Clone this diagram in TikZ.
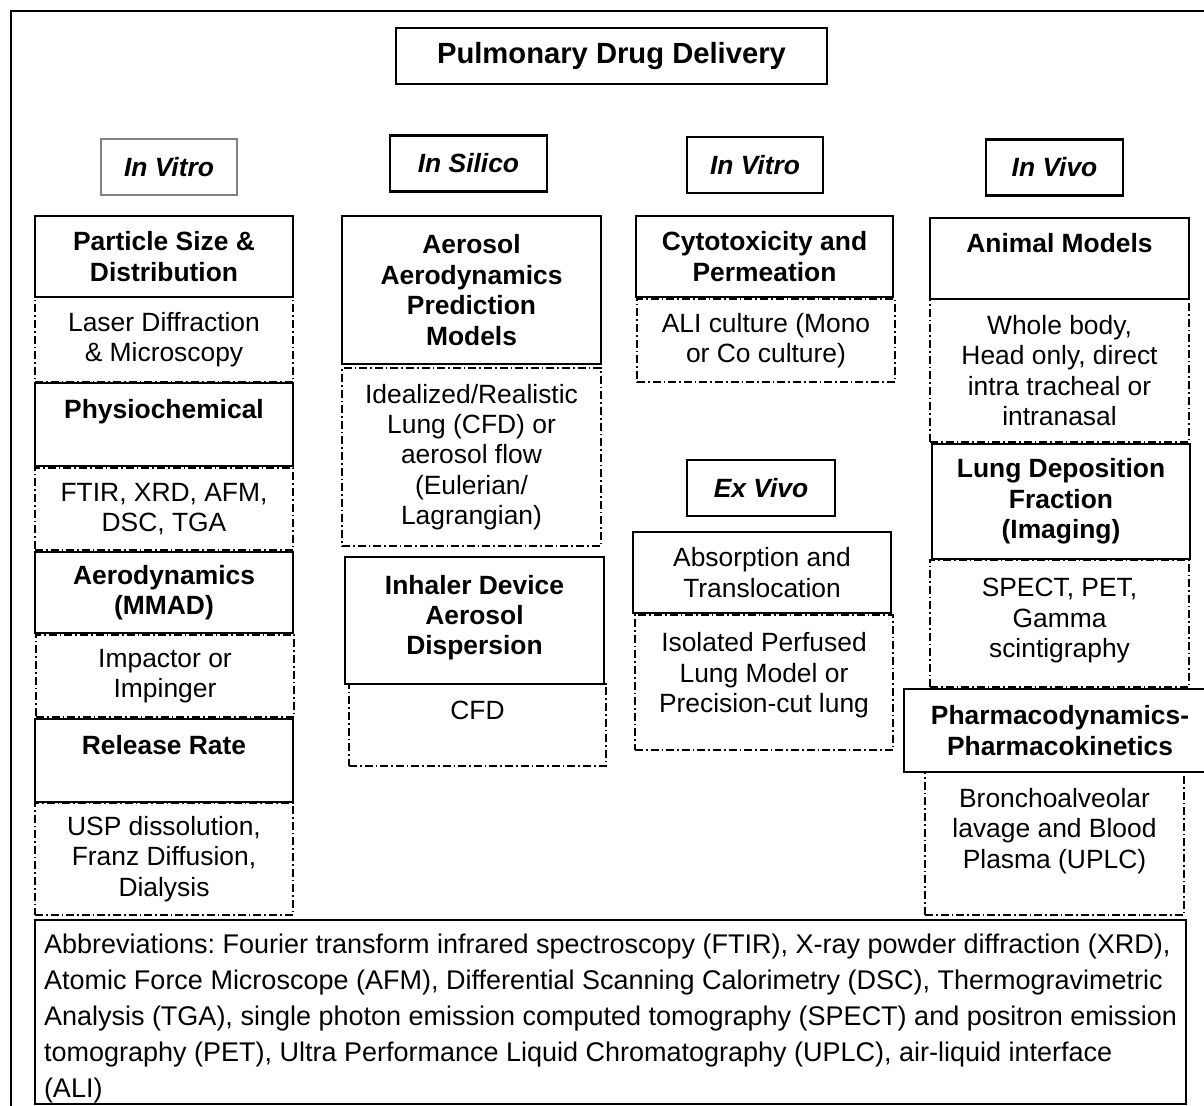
\documentclass[tikz,border=0pt]{standalone}
\usepackage{fontspec}
\setmainfont{Liberation Sans}
\frenchspacing

\begin{document}
\begin{tikzpicture}[x=0.5pt,y=-0.5pt,
  pdbox/.style={draw,line width=1.3pt,align=center,inner sep=2pt,
    font=\fontsize{13.2}{15.2}\selectfont},
  pdsolid/.style={pdbox,minimum width=129pt,font=\fontsize{13.2}{15.2}\selectfont\bfseries},
  pddash/.style={pdbox,minimum width=129pt,line width=0.75pt,
    dash pattern=on 4pt off 1.5pt on 0.8pt off 1.5pt},
  pdhead/.style={pdbox,minimum width=68pt,minimum height=28pt,
    font=\fontsize{13.2}{15.2}\selectfont\bfseries\itshape}
]
  \useasboundingbox (0,0) rectangle (1204,1105);
  \draw[line width=1.3pt] (1220,11) -- (11,11) -- (11,1120);

  \node[pdbox,minimum width=215.5pt,minimum height=28pt,
    font=\fontsize{14.6}{17}\selectfont\bfseries] (title) at (611.5,56) {Pulmonary Drug Delivery};

  % headings
  \node[pdhead,draw=gray,line width=0.6pt] (vitroA) at (169,167) {In Vitro};
  \node[pdhead,minimum width=78.5pt] (silico) at (468.5,163.5) {In Silico};
  \node[pdhead] (vitroB) at (755,165) {In Vitro};
  \node[pdhead,minimum width=68.5pt] (vivo) at (1054.5,167.5) {In Vivo};
  \node[pdhead,minimum width=74pt] (exvivo) at (761,488) {Ex Vivo};

  % in vitro characterisation
  \node[pddash,minimum height=42.5pt] (laser) at (164,339.5) {Laser Diffraction\\\& Microscopy};
  \node[pddash,minimum height=41pt] (ftir) at (164,509) {FTIR, XRD, AFM,\\DSC, TGA};
  \node[pddash,minimum height=41pt] (impactor) at (165,676) {Impactor or\\Impinger};
  \node[pddash,minimum height=56pt] (usp) at (164,859) {USP dissolution,\\Franz Diffusion,\\Dialysis};
  \node[pdsolid,minimum height=40.5pt] (psize) at (164,256.5) {Particle Size \&\\Distribution};
  \node[pdsolid,minimum height=41.5pt] (physio) at (164,424.5) {Physiochemical\\\mbox{}};
  \node[pdsolid,minimum height=40.5pt] (mmad) at (164,592.5) {Aerodynamics\\(MMAD)};
  \node[pdsolid,minimum height=41.5pt] (release) at (164,760.5) {Release Rate\\\mbox{}};

  % in silico
  \node[pddash,minimum width=129.5pt,minimum height=89pt] (lungcfd) at (471.5,457)
    {Idealized/Realistic\\Lung (CFD) or\\aerosol flow\\(Eulerian/\\Lagrangian)};
  \node[pddash,minimum width=128.5pt,minimum height=41pt] (cfd) at (477.5,725) {CFD\\\mbox{}};
  \node[pdsolid,minimum width=129.5pt,minimum height=74pt] (aeropred) at (471.5,290)
    {Aerosol\\Aerodynamics\\Prediction\\Models};
  \node[pdsolid,minimum width=129.5pt,minimum height=63.5pt] (inhaler) at (474.5,620.5)
    {Inhaler Device\\Aerosol\\Dispersion\\[-9.7pt]\mbox{}};

  % in vitro cells and ex vivo
  \node[pddash,minimum height=41.5pt] (ali) at (766,340.5) {ALI culture (Mono\\or Co culture)};
  \node[pddash,minimum height=67.5pt] (isolated) at (764,682.5)
    {Isolated Perfused\\Lung Model or\\Precision-cut lung\\[-5.2pt]\mbox{}};
  \node[pdsolid,minimum width=128.5pt,minimum height=40.5pt] (cyto) at (764.5,256.5) {Cytotoxicity and\\Permeation};
  \node[pdbox,minimum width=129pt,minimum height=40.5pt] (absorb) at (762,572.5) {Absorption and\\Translocation};

  % in vivo
  \node[pddash,minimum width=129.5pt,minimum height=71.5pt] (whole) at (1059.5,370.5)
    {Whole body,\\Head only, direct\\intra tracheal or\\intranasal};
  \node[pddash,minimum width=129.5pt,minimum height=63.5pt] (spect) at (1059.5,623.5)
    {SPECT, PET,\\Gamma\\scintigraphy\\[-9.7pt]\mbox{}};
  \node[pddash,minimum width=129.5pt,minimum height=71.5pt] (balf) at (1054.5,843.5)
    {Bronchoalveolar\\lavage and Blood\\Plasma (UPLC)\\\mbox{}};
  \node[pdsolid,minimum width=129.5pt,minimum height=40.5pt] (animal) at (1059.5,258.5) {Animal Models\\\mbox{}};
  \node[pdsolid,minimum width=129pt,minimum height=57.5pt] (lungdep) at (1061,501.5)
    {Lung Deposition\\Fraction\\(Imaging)};
  \node[pdsolid,minimum width=156pt,minimum height=41.5pt] (pkpd) at (1060,730.5)
    {Pharmacodynamics-\\Pharmacokinetics};

  \node[pdbox,minimum width=575.5pt,minimum height=92pt,align=left,inner ysep=0pt,
    font=\fontsize{13.5}{18}\selectfont] (abbrev) at (610.5,1012)
    {\rule{0pt}{16pt}Abbreviations: Fourier transform infrared spectroscopy (FTIR), X-ray powder diffraction (XRD),\\
     Atomic Force Microscope (AFM), Differential Scanning Calorimetry (DSC), Thermogravimetric\\
     Analysis (TGA), single photon emission computed tomography (SPECT) and positron emission\\
     tomography (PET), Ultra Performance Liquid Chromatography (UPLC), air-liquid interface\\
     (ALI)};
\end{tikzpicture}
\end{document}
